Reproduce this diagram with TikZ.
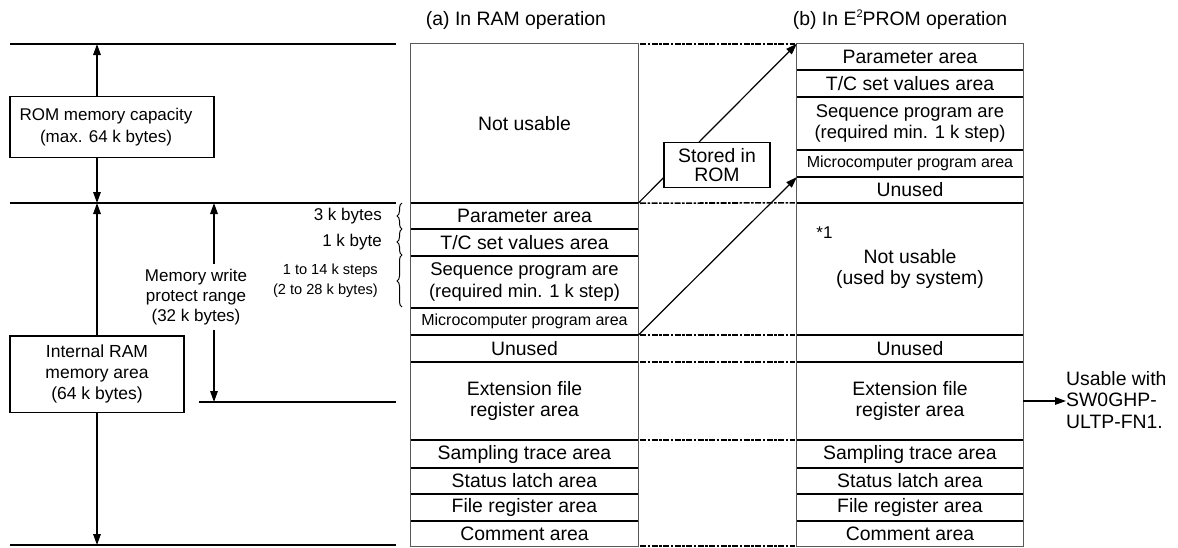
\documentclass[tikz,border=0pt]{standalone}
\usepackage{fontspec}
\setmainfont{Liberation Sans}
\usetikzlibrary{arrows.meta,decorations.pathreplacing}
\newcommand\fsz[1]{\fontsize{#1}{21.5}\selectfont}
\begin{document}
\begin{tikzpicture}[x=1pt,y=-1pt,
 cellA/.style={rectangle,inner sep=0pt,minimum width=227pt,align=center,font=\fsz{19.4}},
 cellB/.style={cellA,minimum width=226pt},
 sep/.style={line width=1.8pt,black},
 frame/.style={line width=1.3pt,color=black!65},
 hline/.style={line width=1.8pt},
 arr/.style={line width=1.5pt,-{Triangle[length=11pt,width=7.5pt]}},
 dl/.style={line width=1.6pt,dash pattern=on 6pt off 1.5pt on 2.5pt off 1.5pt},
 lbox/.style={draw,line width=1.2pt,inner sep=0pt,align=center,font=\fsz{17}},
 brc/.style={decorate,decoration={brace,amplitude=5pt},line width=1pt},
 lbl/.style={anchor=east,inner sep=0pt,font=\fsz{17}},
]
\useasboundingbox (0,0) rectangle (1178,547);

% titles
\node[font=\fsz{19.4}] (ta) at (516,20) {(a) In RAM operation};
\node[font=\fsz{19.4}] (tb) at (900,20) {(b) In E\raisebox{0.75ex}{\fontsize{11}{11}\selectfont 2}PROM operation};

% column (a)
\node[cellA,minimum height=159pt] (nu) at (524.5,123.5) {\raisebox{-5pt}{Not usable}};
\node[cellA,minimum height=26pt] (pa) at (524.5,216) {Parameter area};
\node[cellA,minimum height=27pt] (tc) at (524.5,242.5) {T/C set values area};
\node[cellA,minimum height=52pt,font=\fsz{18.4}] (sq) at (524.5,282) {Sequence program are\\(required min. 1 k step)};
\node[cellA,minimum height=27pt,font=\fsz{16}] (mc) at (524.5,321.5) {Microcomputer program area};
\node[cellA,minimum height=27pt] (un) at (524.5,348.5) {Unused};
\node[cellA,minimum height=78pt] (ex) at (524.5,401) {Extension file\\register area};
\node[cellA,minimum height=28pt] (st) at (524.5,454) {Sampling trace area};
\node[cellA,minimum height=26pt] (sl) at (524.5,481) {Status latch area};
\node[cellA,minimum height=27pt] (fr) at (524.5,507.5) {File register area};
\node[cellA,minimum height=25pt] (ca) at (524.5,533.5) {Comment area};
\draw[frame] (nu.north west) rectangle (ca.south east);
\foreach \n in {nu,pa,tc,sq,mc,un,ex,st,sl,fr} \draw[sep] (\n.south west) -- (\n.south east);

% column (b)
\node[cellB,minimum height=26pt] (pb) at (910,57) {Parameter area};
\node[cellB,minimum height=27pt] (tcb) at (910,83.5) {T/C set values area};
\node[cellB,minimum height=53pt,font=\fsz{18.4}] (sqb) at (910,123.5) {Sequence program are\\(required min. 1 k step)};
\node[cellB,minimum height=27pt,font=\fsz{16}] (mcb) at (910,163.5) {Microcomputer program area};
\node[cellB,minimum height=26pt] (unb) at (910,190) {Unused};
\node[cellB,minimum height=132pt] (nub) at (910,269) {Not usable\\(used by system)};
\node[cellB,minimum height=27pt] (un2b) at (910,348.5) {Unused};
\node[cellB,minimum height=78pt] (exb) at (910,401) {Extension file\\register area};
\node[cellB,minimum height=28pt] (stb) at (910,454) {Sampling trace area};
\node[cellB,minimum height=26pt] (slb) at (910,481) {Status latch area};
\node[cellB,minimum height=27pt] (frb) at (910,507.5) {File register area};
\node[cellB,minimum height=25pt] (cab) at (910,533.5) {Comment area};
\draw[frame] (pb.north west) rectangle (cab.south east);
\foreach \n in {pb,tcb,sqb,mcb,unb,nub,un2b,exb,stb,slb,frb} \draw[sep] (\n.south west) -- (\n.south east);
\node[inner sep=0pt,font=\fsz{17}] (note) at (824.5,233) {*1};

% dashed correspondences
\foreach \a/\b in {nu.north east/pb.north west, nu.south east/nub.north west,
  un.north east/un2b.north west, un.south east/un2b.south west,
  ex.south east/exb.south west, ca.south east/cab.south west}
  \draw[dl,shorten <=2pt,shorten >=2pt] (\a) -- (\b);

% stored in ROM arrows
\draw[arr,line width=1.2pt] (nu.south east) -- (pb.north west);
\draw[arr,line width=1.2pt] (mc.south east) -- (mcb.south west);
\node[lbox,fill=white,minimum width=106pt,minimum height=45pt,font=\fontsize{19.4}{19.5}\selectfont] (sir) at (717,165) {Stored in\\ROM};

% usable with
\node[anchor=west,inner sep=0pt,align=left,font=\fsz{19.4}] (usable) at (1066,400) {Usable with\\SW0GHP-\\ULTP-FN1.};
\draw[arr,line width=1.3pt] (exb.east) -- (exb.east -| usable.west);

% left side
\draw[hline] (10,44) -- (396,44);
\draw[hline] (10,203) -- (396,203);
\draw[hline] (199,402) -- (396,402);
\draw[hline] (10,545) -- (396,545);

\node[lbox,minimum width=204pt,minimum height=60.6pt] (romcap) at (112,127) {\hspace*{-12pt}ROM memory capacity\\\hspace*{-12pt}(max. 64 k bytes)};
\coordinate (romtop) at (97,44);
\coordinate (rombot) at (97,203);
\draw[arr] (romcap.north -| romtop) -- (romtop);
\draw[arr] (romcap.south -| rombot) -- (rombot);

\node[lbox,minimum width=174pt,minimum height=76.7pt,font=\fontsize{17.5}{21}\selectfont] (ram) at (97,374.3) {Internal RAM\\memory area\\(64 k bytes)};
\coordinate (ramtop) at (97,203);
\coordinate (rambot) at (97,545);
\draw[arr] (ram.north) -- (ramtop);
\draw[arr] (ram.south) -- (rambot);

\node[inner sep=0pt,align=center,minimum height=66pt,font=\fontsize{17}{20}\selectfont] (mwp) at (196,297) {Memory write\\protect range\\(32 k bytes)};
\coordinate (mwtop) at (214,203);
\coordinate (mwbot) at (214,402);
\draw[arr] (mwp.north -| mwtop) -- (mwtop);
\draw[arr] (mwp.south -| mwbot) -- (mwbot);

% braces and sizes
\draw[brc] (402,229) -- (402,203);
\draw[brc] (402,255) -- (402,229);
\draw[brc] (402,307) -- (402,255);
\node[lbl] (l3k) at (382,216) {3 k bytes};
\node[lbl] (l1k) at (382,242) {1 k byte};
\node[lbl,align=right,font=\fontsize{14.6}{20}\selectfont] (l14) at (378,281) {1 to 14 k steps\\(2 to 28 k bytes)};
\end{tikzpicture}
\end{document}
